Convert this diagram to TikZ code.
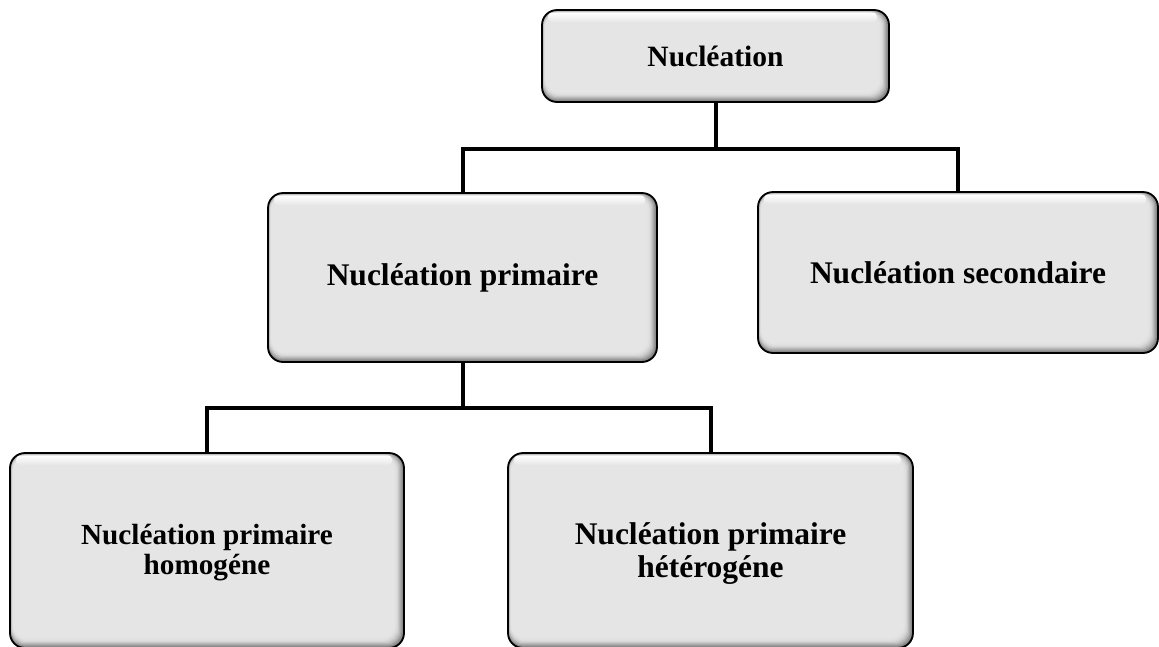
\documentclass[tikz,border=0pt]{standalone}
\usepackage{fontspec}
\setmainfont{Liberation Serif}
\usetikzlibrary{calc}
\definecolor{boxgray}{HTML}{E6E6E6}
\begin{document}
\begin{tikzpicture}[x=1pt,y=-1pt,
  txt/.style={font=\fontsize{31.5}{34}\selectfont\bfseries, align=center},
  box/.style={draw=black, line width=1.8pt, rounded corners=15pt, fill=boxgray,
    txt, inner sep=0pt,
    path picture={
      \foreach \i/\c in {0/42,1/54,2/64,3/72,4/79,5/84,6/87,7/89,8/90}{
        \fill[white!\c!black, rounded corners=14pt]
          ($(path picture bounding box.north west)+({0.4*\i*1pt},{-0.4*\i*1pt})$) rectangle
          ($(path picture bounding box.south east)+({-1.2*\i*1pt},{1.2*\i*1pt})$);
      }
      \shade[top color=white, bottom color=boxgray, rounded corners=4pt]
        ($(path picture bounding box.north west)+(6pt,-2.5pt)$) rectangle
        ($(path picture bounding box.north east)+(-12pt,-12pt)$);
    }},
  conn/.style={line width=4pt}]
\useasboundingbox (0,0) rectangle (1159,646);

\node[box, minimum width=347pt, minimum height=92pt,
      font=\fontsize{29.5}{34}\selectfont\bfseries] (top) at (715.5,56) {Nucléation};
\node[box, minimum width=389pt, minimum height=169pt] (prim) at (462.5,277.5) {Nucléation primaire};
\node[box, minimum width=400pt, minimum height=161pt] (sec) at (958,272.5) {Nucléation secondaire};
\node[box, minimum width=394pt, minimum height=195pt,
      label={[name=homotxt, txt, font=\fontsize{29.2}{30}\selectfont\bfseries, yshift=-2.5pt]center:Nucléation primaire\\homogéne}] (homo) at (207,550.5) {};
\node[box, minimum width=405pt, minimum height=195pt,
      label={[name=hettxt, txt, font=\fontsize{31.5}{33}\selectfont\bfseries, yshift=-3.5pt]center:Nucléation primaire\\hétérogéne}] (het) at (710.5,550.5) {};

\coordinate (j1) at ($(top.south)+(0,46)$);
\draw[conn] (top.south) -- (j1);
\draw[conn] (prim.north) |- (j1) -| (sec.north);

\coordinate (j2) at ($(prim.south)+(0,45)$);
\draw[conn] (prim.south) -- (j2);
\draw[conn] (homo.north) |- (j2) -| (het.north);
\end{tikzpicture}
\end{document}
